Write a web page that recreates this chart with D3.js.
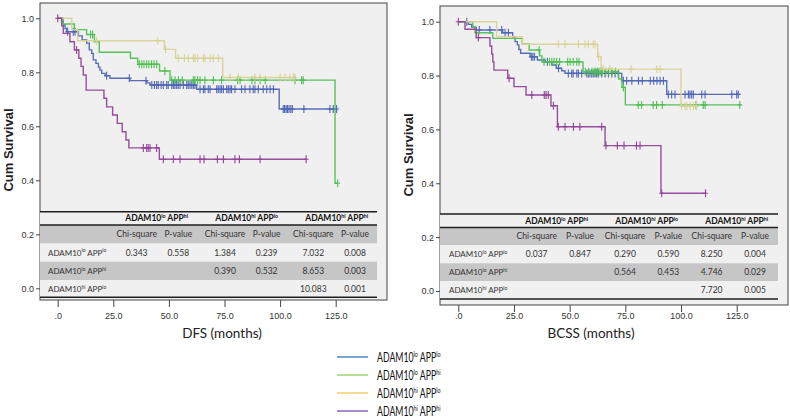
<!DOCTYPE html>
<html><head><meta charset="utf-8">
<script src="https://cdn.jsdelivr.net/npm/d3@7"></script>
<style>body{margin:0;background:#fff}svg{display:block}</style>
</head><body>
<svg id="c" width="790" height="420"></svg>
<script>
// ---------------- DATA ----------------
const groupSup = [["lo","lo"],["lo","hi"],["hi","lo"],["hi","hi"]];
const seriesColors = ["#5066b6","#4fbf52","#d9d296","#914597"];
const legendColors = ["#3d7fc2","#92d366","#f5cb63","#8459b6"];
const xTicks = [0,25,50,75,100,125];
const xTickLabels = [".0","25.0","50.0","75.0","100.0","125.0"];
const yTicks = [0,0.2,0.4,0.6,0.8,1.0];
const yTickLabels = ["0.0","0.2","0.4","0.6","0.8","1.0"];
const tableColHeads = [1,2,3];          // indices into groupSup
const tableRowHeads = [0,1,2];
const tableSubHeads = ["Chi-square","P-value","Chi-square","P-value","Chi-square","P-value"];

// DFS panel – step points [months, survival]; last point = end of follow-up
const dfsLoLo = [[0,1],[1.8,0.987],[2.5,0.975],[3.3,0.962],[4,0.95],[9.3,0.935],[11,0.92],[13,0.908],[14.2,0.883],[15.3,0.87],[16,0.846],[17.2,0.833],[18.3,0.819],[19,0.808],[19.8,0.796],[21.3,0.787],[23.5,0.778],[32.5,0.769],[40,0.761],[41.5,0.753],[62.5,0.737],[99.6,0.664],[125.4,0.664]];
const dfsLoLoCens = [4.5,7,7.8,22,32.2,39.7,42.3,43.5,44.5,45.2,46.5,47.5,49,49.7,51.3,52,52.7,53.5,54.2,55,56.5,58,58.7,59.5,60.3,61,61.7,64,65.5,66.2,67.7,68.5,71.5,72.2,73,73.7,74.5,76,76.7,77.5,78.2,79.7,82.7,84.2,86.4,87.9,88.7,90.2,92.4,94,95.5,97,101.4,102,102.7,103.3,104,104.8,105.5,110.7,122.4,123.9,125.4];
const dfsLoHi = [[0,1],[2.5,0.979],[7.5,0.958],[13,0.94],[16.5,0.913],[18.7,0.874],[32.7,0.852],[36,0.83],[45.8,0.805],[50.5,0.771],[124.7,0.389],[125.9,0.389]];
const dfsLoHiCens = [14.8,15.7,36.7,37.8,38.8,40,41,42.2,43.3,44.5,48.2,51.3,52.8,54.3,56,61,61.7,62.9,64,66.2,70,73.7,80.9,82,87.3,88.7,91,93.3,106.7,109.7,110.4,125.9];
const dfsHiLo = [[0,1],[6.3,0.958],[9,0.917],[48,0.885],[53,0.852],[74.2,0.781],[107,0.781]];
const dfsHiLoCens = [17.5,45,48.5,54.2,57,58.7,61,61.7,62.9,65.5,66.2,68.5,70,72.2,77.5,81.2,88.7,91,100,102.2,104.4,106,106.7];
const dfsHiHi = [[0,1],[1.8,0.972],[2.5,0.944],[5.5,0.913],[7.5,0.883],[9.5,0.852],[10.5,0.822],[11.5,0.79],[12.8,0.734],[20.8,0.704],[22,0.672],[24.7,0.642],[26.8,0.611],[29,0.58],[30.7,0.549],[32,0.52],[45.7,0.478],[111.7,0.478]];
const dfsHiHiCens = [0,8.5,38.5,40,40.7,41.5,44.5,47.5,52,55,64,65.8,71.8,74.5,79.7,81.7,91,111.7];

// BCSS panel
const bcssLoLo = [[0,1],[4.5,0.99],[6,0.98],[8,0.969],[19.9,0.959],[24.4,0.944],[25.5,0.926],[26.5,0.914],[27.2,0.897],[28,0.883],[32.2,0.87],[35.5,0.858],[39,0.851],[42,0.839],[44,0.827],[46.4,0.818],[47.9,0.808],[73.4,0.781],[93.6,0.73],[125.7,0.73]];
const bcssLoLoCens = [3.8,9.4,14.2,19.5,21,22.5,32.8,33.5,34.2,40,45,49.4,50.9,51.6,53.2,53.9,55.4,57.7,58.4,59.1,59.9,60.6,61.4,62.1,62.9,64.4,65.9,67.4,68.9,70.4,71.8,74.1,75.6,77.9,80.9,82.6,86.2,87.7,89.2,90.6,92.1,94.3,95.8,97.3,101.8,103.3,104,104.8,105.5,109.3,110.8,122.8,125,125.7];
const bcssLoHi = [[0,1],[6.5,0.98],[7.5,0.959],[15.5,0.938],[28.7,0.917],[31.8,0.895],[36.5,0.873],[37.6,0.851],[56,0.814],[72,0.787],[73.5,0.756],[75,0.691],[126.4,0.691]];
const bcssLoHiCens = [36.3,38.5,41,42,43,44.2,45.5,49.1,50.2,51.6,53.2,54.2,57,58.5,60,61,61.7,62.5,63.2,64,64.7,66.2,67.6,69.1,70.6,74.1,80.8,82.3,87.5,89,91.6,106.7,110,110.8,126.4];
const bcssHiLo = [[0,1],[17.2,0.944],[28.8,0.916],[62.6,0.87],[64.1,0.824],[100,0.686],[107,0.686]];
const bcssHiLoCens = [44.9,47.9,53.9,56.9,58.4,60.6,61.4,63,65.1,68.1,77.6,89.1,90.6,100.3,101.8,102.6,104.1,105.6,106.8];
const bcssHiHi = [[0,1],[3,0.972],[8,0.941],[14.2,0.91],[15,0.88],[15.5,0.851],[16,0.82],[22.2,0.79],[25,0.759],[30.4,0.728],[41.6,0.688],[44.5,0.61],[65.9,0.54],[91,0.363],[111,0.363]];
const bcssHiHiCens = [0,9,22.8,33,38.6,39.4,40.4,42.7,44.9,47.9,51.7,54.6,64.4,66.3,71.4,74.4,80,81.6,91.3,111];

// Log-rank tables (rows: lo/lo, lo/hi, hi/lo)
const dfsTable = [["0.343","0.558","1.384","0.239","7.032","0.008"],["","","0.390","0.532","8.653","0.003"],["","","","","10.083","0.001"]];
const bcssTable = [["0.037","0.847","0.290","0.590","8.250","0.004"],["","","0.564","0.453","4.746","0.029"],["","","","","7.720","0.005"]];

// ---------------- DRAWING ----------------
const svg = d3.select("#c");
const SANS = "'Liberation Sans', Arial, sans-serif";
const CAL = "Lato, 'Open Sans', sans-serif";

function supText(sel, parts, fs, weight) {
  const shift = fs * 0.38;
  let up = false;
  parts.forEach(([t, s]) => {
    const ts = sel.append("tspan").text(t);
    if (s && !up) { ts.attr("dy", -shift).attr("font-size", fs * 0.62); up = true; }
    else if (s) { ts.attr("font-size", fs * 0.62); }
    else if (!s && up) { ts.attr("dy", shift); up = false; }
  });
  if (weight) sel.attr("font-weight", weight);
}
function groupParts(g) { return [["ADAM10", false], [groupSup[g][0], true], [" APP", false], [groupSup[g][1], true]]; }

function survAt(pts, t) {
  let s = pts[0][1];
  for (const p of pts) { if (p[0] <= t) s = p[1]; else break; }
  return s;
}

function drawPanel(cfg) {
  const g = svg.append("g");
  const x = d3.scaleLinear().domain([0, 125]).range(cfg.xr);
  const y = d3.scaleLinear().domain([0, 1]).range(cfg.yr);

  g.append("rect").attr("x", cfg.frame[0]).attr("y", cfg.frame[1])
    .attr("width", cfg.frame[2] - cfg.frame[0]).attr("height", cfg.frame[3] - cfg.frame[1])
    .attr("fill", "#f0f0f0").attr("stroke", "#555").attr("stroke-width", 1.1);

  const ya = g.append("g").attr("transform", `translate(${cfg.frame[0]},0)`)
    .call(d3.axisLeft(y).tickValues(yTicks).tickFormat((d, i) => yTickLabels[i]).tickSize(4).tickPadding(2));
  ya.select(".domain").remove();
  ya.selectAll("line").attr("stroke", "#444");
  ya.selectAll("text").attr("font-family", SANS).attr("font-size", 9).attr("fill", "#333");

  const xa = g.append("g").attr("transform", `translate(0,${cfg.frame[3]})`)
    .call(d3.axisBottom(x).tickValues(xTicks).tickFormat((d, i) => xTickLabels[i]).tickSize(7).tickPadding(cfg.xpad));
  xa.select(".domain").remove();
  xa.selectAll("line").attr("stroke", "#444");
  xa.selectAll("text").attr("font-family", SANS).attr("font-size", 9).attr("fill", "#333");

  const line = d3.line().x(d => x(d[0])).y(d => y(d[1])).curve(d3.curveStepAfter);
  cfg.series.forEach((s, i) => {
    g.append("path").datum(s.pts).attr("d", line).attr("fill", "none")
      .attr("stroke", seriesColors[i]).attr("stroke-width", 1.4).attr("stroke-opacity", 0.95);
    g.append("g").selectAll("path").data(s.cens).join("path")
      .attr("d", t => {
        const px = x(t), py = y(survAt(s.pts, t));
        return `M${px},${py - 4}V${py + 4}M${px - 2.5},${py}H${px + 2.5}`;
      })
      .attr("stroke", seriesColors[i]).attr("stroke-width", 1.1).attr("fill", "none");
  });

  g.append("text").attr("transform", `translate(${cfg.ytitle[0]},${cfg.ytitle[1]}) rotate(-90)`)
    .attr("text-anchor", "middle").attr("font-family", SANS).attr("font-weight", "bold")
    .attr("font-size", 13).attr("fill", "#222").text("Cum Survival");
  g.append("text").attr("x", cfg.xtitle[0]).attr("y", cfg.xtitle[1]).attr("text-anchor", "middle")
    .attr("font-family", CAL).attr("font-size", 13.5).attr("fill", "#222").text(cfg.xlabel);

  const T = cfg.table;
  const tg = g.append("g");
  tg.append("rect").attr("x", T.x0).attr("y", T.top).attr("width", T.x1 - T.x0).attr("height", T.rows[4] - T.top).attr("fill", "#f0f0f0");
  [0, 2].forEach(r => {
    tg.append("rect").attr("x", T.x0).attr("y", T.rows[r]).attr("width", T.x1 - T.x0)
      .attr("height", T.rows[r + 1] - T.rows[r]).attr("fill", "#c6c6c6");
  });
  [T.top, T.rows[0], T.rows[4]].forEach(yy => {
    tg.append("line").attr("x1", T.x0).attr("x2", T.x1).attr("y1", yy).attr("y2", yy)
      .attr("stroke", "#1e1e1e").attr("stroke-width", 1.4);
  });
  tableColHeads.forEach((gi, k) => {
    const t = tg.append("text").attr("x", T.heads[k]).attr("y", (T.top + T.rows[0]) / 2 + 3)
      .attr("text-anchor", "middle").attr("font-family", CAL).attr("font-size", 8.5).attr("fill", "#111");
    supText(t, groupParts(gi), 8.5, "bold");
  });
  tableSubHeads.forEach((h, k) => {
    tg.append("text").attr("x", T.cols[k]).attr("y", (T.rows[0] + T.rows[1]) / 2 + 3)
      .attr("text-anchor", "middle").attr("font-family", CAL).attr("font-size", 8.5).attr("fill", "#333").text(h);
  });
  tableRowHeads.forEach((gi, r) => {
    const yy = (T.rows[r + 1] + T.rows[r + 2]) / 2 + 3;
    const t = tg.append("text").attr("x", T.label).attr("y", yy).attr("font-family", CAL)
      .attr("font-size", 8).attr("fill", "#333");
    supText(t, groupParts(gi), 8, null);
    cfg.values[r].forEach((v, k) => {
      if (!v) return;
      tg.append("text").attr("x", T.cols[k]).attr("y", yy).attr("text-anchor", "middle")
        .attr("font-family", CAL).attr("font-size", 8.5).attr("fill", "#333").text(v);
    });
  });
}

drawPanel({
  xr: [57.7, 335.7], yr: [288.3, 18.3], frame: [40, 3, 387, 300], xpad: 6,
  ytitle: [13, 150], xtitle: [222, 337.5], xlabel: "DFS (months)",
  series: [
    { pts: dfsLoLo, cens: dfsLoLoCens }, { pts: dfsLoHi, cens: dfsLoHiCens },
    { pts: dfsHiLo, cens: dfsHiLoCens }, { pts: dfsHiHi, cens: dfsHiHiCens }],
  table: { x0: 40, x1: 377, top: 211.7, rows: [225, 243.3, 261.7, 280, 297.3],
    heads: [156.7, 246.7, 336.7], cols: [136.7, 178.3, 225, 266.7, 313.3, 355], label: 48 },
  values: dfsTable
});
drawPanel({
  xr: [458.3, 736.7], yr: [291, 21.7], frame: [440, 6, 788, 305], xpad: 1,
  ytitle: [413, 155], xtitle: [591, 337.5], xlabel: "BCSS (months)",
  series: [
    { pts: bcssLoLo, cens: bcssLoLoCens }, { pts: bcssLoHi, cens: bcssLoHiCens },
    { pts: bcssHiLo, cens: bcssHiLoCens }, { pts: bcssHiHi, cens: bcssHiHiCens }],
  table: { x0: 440, x1: 778, top: 214, rows: [227.5, 245, 263.3, 281, 299],
    heads: [556.7, 646.7, 736.7], cols: [536.7, 580, 625, 668.3, 711.7, 755], label: 449 },
  values: bcssTable
});

// legend (the original legend is horizontally condensed)
const lg = svg.append("g");
groupSup.forEach((gs, i) => {
  const yy = 357 + i * 18;
  lg.append("line").attr("x1", 337).attr("x2", 368).attr("y1", yy).attr("y2", yy)
    .attr("stroke", legendColors[i]).attr("stroke-width", 1.4);
  const t = lg.append("text").attr("transform", `translate(377,${yy + 4.5}) scale(0.7,1)`)
    .attr("font-family", CAL).attr("font-size", 12.5).attr("fill", "#111");
  supText(t, groupParts(i), 12.5, null);
});
</script>
</body></html>
